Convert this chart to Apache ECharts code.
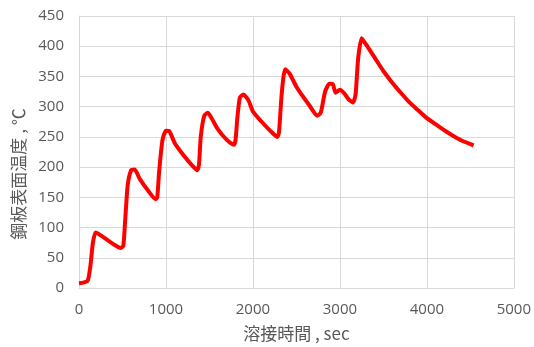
<!DOCTYPE html>
<html>
<head>
<meta charset="utf-8">
<script src="https://cdn.jsdelivr.net/npm/echarts@6/dist/echarts.min.js"></script>
<style>
  html, body { margin: 0; padding: 0; background: #fff; }
  #chart { width: 534px; height: 347px; }
</style>
</head>
<body>
<div id="chart"></div>
<script>
// welding time (sec) and steel plate surface temperature (℃)
const timeSec = [
  0, 50, 100, 130, 160, 190, 220, 300, 400, 480, 510, 530, 560, 600, 640, 700, 800, 880,
  900, 920, 960, 1000, 1040, 1100, 1200, 1300, 1360, 1380, 1400, 1440, 1480, 1520, 1600,
  1700, 1780, 1800, 1820, 1850, 1890, 1950, 2000, 2100, 2200, 2280, 2300, 2330, 2370,
  2420, 2500, 2550, 2650, 2740, 2780, 2830, 2880, 2920, 2950, 3000, 3050, 3100, 3150,
  3180, 3210, 3250, 3300, 3400, 3500, 3600, 3700, 3800, 3900, 4000, 4100, 4200, 4300,
  4400, 4538
]
const tempC = [
  8, 9, 12, 35, 75, 92, 90, 82, 72, 66, 70, 110, 170, 195, 196, 180, 160, 147,
  150, 190, 245, 260, 259, 240, 220, 203, 195, 205, 250, 285, 290, 282, 262,
  245, 237, 245, 280, 315, 320, 310, 292, 275, 260, 250, 258, 320, 362,
  355, 333, 322, 302, 285, 290, 325, 338, 337, 323, 328, 322, 312, 307,
  320, 380, 413, 403, 381, 359, 340, 323, 307, 294, 281, 271, 261, 252,
  244, 236
]
const xName = '溶接時間 , sec'
const yName = '鋼板表面温度 , ℃'

const labelColor = '#595959'
const gridColor = '#d9d9d9'

const chart = echarts.init(document.getElementById('chart'))
chart.setOption({
  animation: false,
  grid: {
    left: 79,
    right: 19,
    top: 16,
    bottom: 54
  },
  xAxis: {
    type: 'value',
    min: 0,
    max: 5000,
    interval: 1000,
    name: xName,
    nameLocation: 'middle',
    nameGap: 37,
    nameTextStyle: {
      color: labelColor,
      fontSize: 17,
      fontFamily: 'Noto Sans CJK JP'
    },
    axisLine: { show: true, lineStyle: { color: gridColor } },
    axisTick: { show: false },
    axisLabel: {
      color: labelColor,
      fontSize: 15,
      margin: 14,
      fontFamily: 'Open Sans',
      formatter: v => String(v)
    },
    splitLine: { show: true, lineStyle: { color: gridColor } }
  },
  yAxis: {
    type: 'value',
    min: 0,
    max: 450,
    interval: 50,
    name: yName,
    nameLocation: 'middle',
    nameRotate: 90,
    nameGap: 52,
    nameTextStyle: {
      color: labelColor,
      fontSize: 17,
      fontFamily: 'Noto Sans CJK JP',
      padding: [0, 44, 0, 0]
    },
    axisLine: { show: true, lineStyle: { color: gridColor } },
    axisTick: { show: false },
    axisLabel: {
      color: labelColor,
      fontSize: 15,
      margin: 15,
      fontFamily: 'Open Sans'
    },
    splitLine: { show: true, lineStyle: { color: gridColor } }
  },
  series: [
    {
      type: 'line',
      data: timeSec.map((t, i) => [t, tempC[i]]),
      showSymbol: false,
      smooth: 0.2,
      lineStyle: { color: '#ff0000', width: 4 }
    }
  ]
})
</script>
</body>
</html>
